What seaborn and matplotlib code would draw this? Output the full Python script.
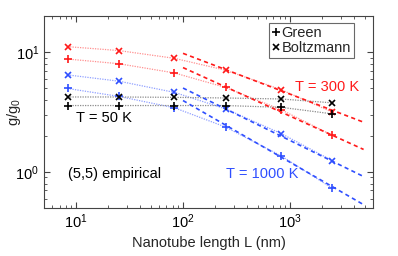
import numpy as np
import pandas as pd
import matplotlib
matplotlib.use("Agg")
import matplotlib.pyplot as plt
import seaborn as sns
from matplotlib.lines import Line2D

# ---- data ----
lengths = [8.3, 25, 83, 250, 830, 2500]
green_50 = [3.58, 3.58, 3.58, 3.58, 3.46, 3.05]
boltz_50 = [4.22, 4.22, 4.19, 4.14, 4.06, 3.77]
green_300 = [8.75, 8.0, 6.7, 5.07, 3.3, 2.02]
boltz_300 = [11.1, 10.3, 8.87, 7.06, 4.85, 3.15]
green_1000 = [4.97, 4.27, 3.43, 2.37, 1.36, 0.73]
boltz_1000 = [6.45, 5.72, 4.61, 3.36, 2.09, 1.24]

fit_x = [100, 4900]
fit_green_300 = [7.42, 1.54]
fit_boltz_300 = [9.76, 2.6]
fit_green_1000 = [3.94, 0.533]
fit_boltz_1000 = [5.01, 0.915]

sns.set_style("ticks")
plt.rcParams['font.family'] = ['Liberation Sans', 'DejaVu Sans']
plt.rcParams['mathtext.fontset'] = 'custom'
plt.rcParams['mathtext.rm'] = 'Liberation Sans'
plt.rcParams['mathtext.it'] = 'Liberation Sans:italic'

FS = 10.5
RED = "#ff1a1a"
BLUE = "#2f4fff"
BLACK = "#000000"
PALE = {"50": "#8c8c8c", "300": "#ff9090", "1000": "#90a0ff"}
DARK = {"50": BLACK, "300": RED, "1000": BLUE}

rows = []
for T, g, b in [("50", green_50, boltz_50), ("300", green_300, boltz_300),
                ("1000", green_1000, boltz_1000)]:
    for L, v in zip(lengths, g):
        rows.append(dict(T=T, method="Green", L=L, g=v, key=T + "G"))
    for L, v in zip(lengths, b):
        rows.append(dict(T=T, method="Boltzmann", L=L, g=v, key=T + "B"))
df = pd.DataFrame(rows)

fit_rows = []
for T, m, vals in [("300", "Green", fit_green_300), ("300", "Boltzmann", fit_boltz_300),
                   ("1000", "Green", fit_green_1000), ("1000", "Boltzmann", fit_boltz_1000)]:
    for L, v in zip(fit_x, vals):
        fit_rows.append(dict(T=T, method=m, L=L, g=v, key=T + m))
fdf = pd.DataFrame(fit_rows)

fig = plt.figure(figsize=(3.98, 2.56), dpi=100)
ax = fig.add_axes([44 / 398, 1 - 208 / 256, 329 / 398, 192 / 256])

# light dotted connecting lines
for key, sub in df.groupby("key"):
    T = sub["T"].iloc[0]
    sns.lineplot(data=sub, x="L", y="g", ax=ax, color=PALE[T], lw=0.9,
                 linestyle=(0, (1, 1)), estimator=None, sort=True, legend=False)

# dashed fit lines
for key, sub in fdf.groupby("key"):
    T = sub["T"].iloc[0]
    sns.lineplot(data=sub, x="L", y="g", ax=ax, color=DARK[T], lw=1.2,
                 linestyle=(0, (2.5, 2)), estimator=None, legend=False)

# markers
for (T, m), sub in df.groupby(["T", "method"]):
    mk = "+" if m == "Green" else "x"
    ax.plot(sub["L"], sub["g"], linestyle="none", marker=mk, ms=6 if mk == "+" else 5,
            mew=1.2, color=DARK[T])

ax.set_xscale("log")
ax.set_yscale("log")
ax.set_xlim(5, 6000)
ax.set_ylim(0.5, 20)

ax.set_xlabel("Nanotube length L (nm)", fontsize=FS, labelpad=3)
ax.set_ylabel("g/g$_0$", fontsize=FS)
ax.yaxis.set_label_coords(-21 / 329, 0.5)

for s in ax.spines.values():
    s.set_color("#444444")
    s.set_linewidth(0.8)
ax.tick_params(which="both", direction="in", top=True, right=True, colors="#444444",
               labelcolor="black", labelsize=FS)
ax.tick_params(which="major", length=4)
ax.tick_params(which="minor", length=2)

ax.text(10.0, 2.82, "T = 50 K", color=BLACK, fontsize=FS, va="center", ha="left")
ax.text(1113, 5.08, "T = 300 K", color=RED, fontsize=FS, va="center", ha="left")
ax.text(252, 0.957, "T = 1000 K", color=BLUE, fontsize=FS, va="center", ha="left")
ax.text(8.3, 0.957, "(5,5) empirical", color=BLACK, fontsize=FS, va="center", ha="left")

handles = [Line2D([], [], marker="+", ms=6, mew=1.2, color="black", linestyle="none"),
           Line2D([], [], marker="x", ms=4, mew=1.2, color="black", linestyle="none")]
leg = ax.legend(handles, ["Green", "Boltzmann"], loc="upper right",
                bbox_to_anchor=((354 - 44) / 329, 1 - 7 / 192), fontsize=FS,
                frameon=True, fancybox=False, handlelength=0.55, handletextpad=0.15,
                borderpad=0.2, labelspacing=0.1, borderaxespad=0)
leg.get_frame().set_edgecolor("#444444")
leg.get_frame().set_linewidth(0.8)

fig.savefig("out.png", dpi=100)
